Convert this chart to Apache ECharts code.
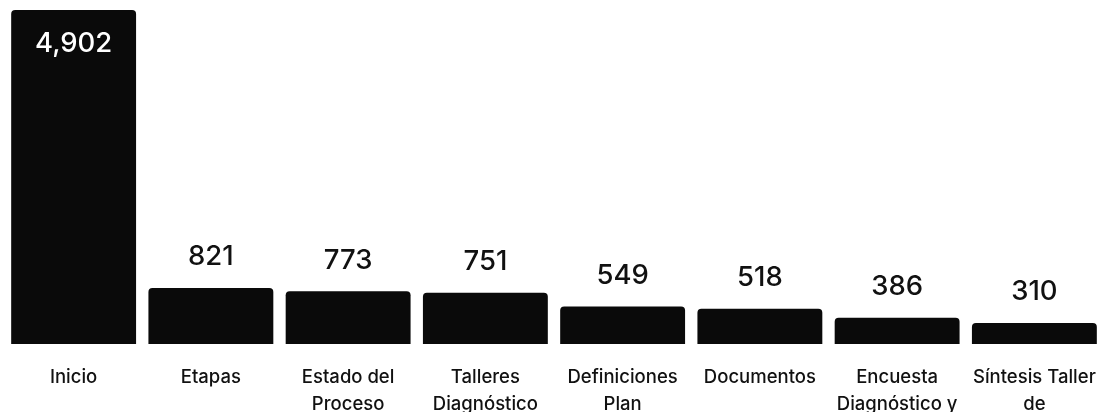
<!DOCTYPE html>
<html><head><meta charset="utf-8">
<script src="https://cdn.jsdelivr.net/npm/echarts@6/dist/echarts.min.js"></script>
<style>html,body{margin:0;padding:0;background:#fff}#c{width:1100px;height:412px}</style>
</head><body><div id="c"></div>
<script>
const categories = ['Inicio', 'Etapas', 'Estado del\nProceso', 'Talleres\nDiagnóstico', 'Definiciones\nPlan', 'Documentos', 'Encuesta\nDiagnóstico y', 'Síntesis Taller\nde'];
const values = [4902, 821, 773, 751, 549, 518, 386, 310];

const chart = echarts.init(document.getElementById('c'));
chart.setOption({
  animation: false,
  grid: { left: 5, right: -3, top: 10, bottom: 68, containLabel: false, outerBoundsMode: 'none' },
  xAxis: {
    type: 'category', data: categories,
    axisLine: { show: false }, axisTick: { show: false },
    axisLabel: { interval: 0, margin: 20, fontFamily: 'Inter', fontSize: 18.5, fontWeight: 500, color: '#111', lineHeight: 27 }
  },
  yAxis: { type: 'value', min: 0, max: 4902, show: false, splitLine: { show: false } },
  series: [{
    type: 'bar', data: values.map((v, i) => i === 0 ? {
      value: v,
      label: { position: 'insideTop', distance: 20, color: '#fff' }
    } : v),
    barCategoryGap: '9%',
    itemStyle: { color: '#0a0a0a', borderRadius: [4, 4, 0, 0] },
    label: {
      show: true, position: 'top', distance: 17,
      fontFamily: 'Inter', fontSize: 27.5, fontWeight: 500, color: '#111',
      formatter: p => p.value.toLocaleString('en-US')
    }
  }]
});
</script></body></html>
